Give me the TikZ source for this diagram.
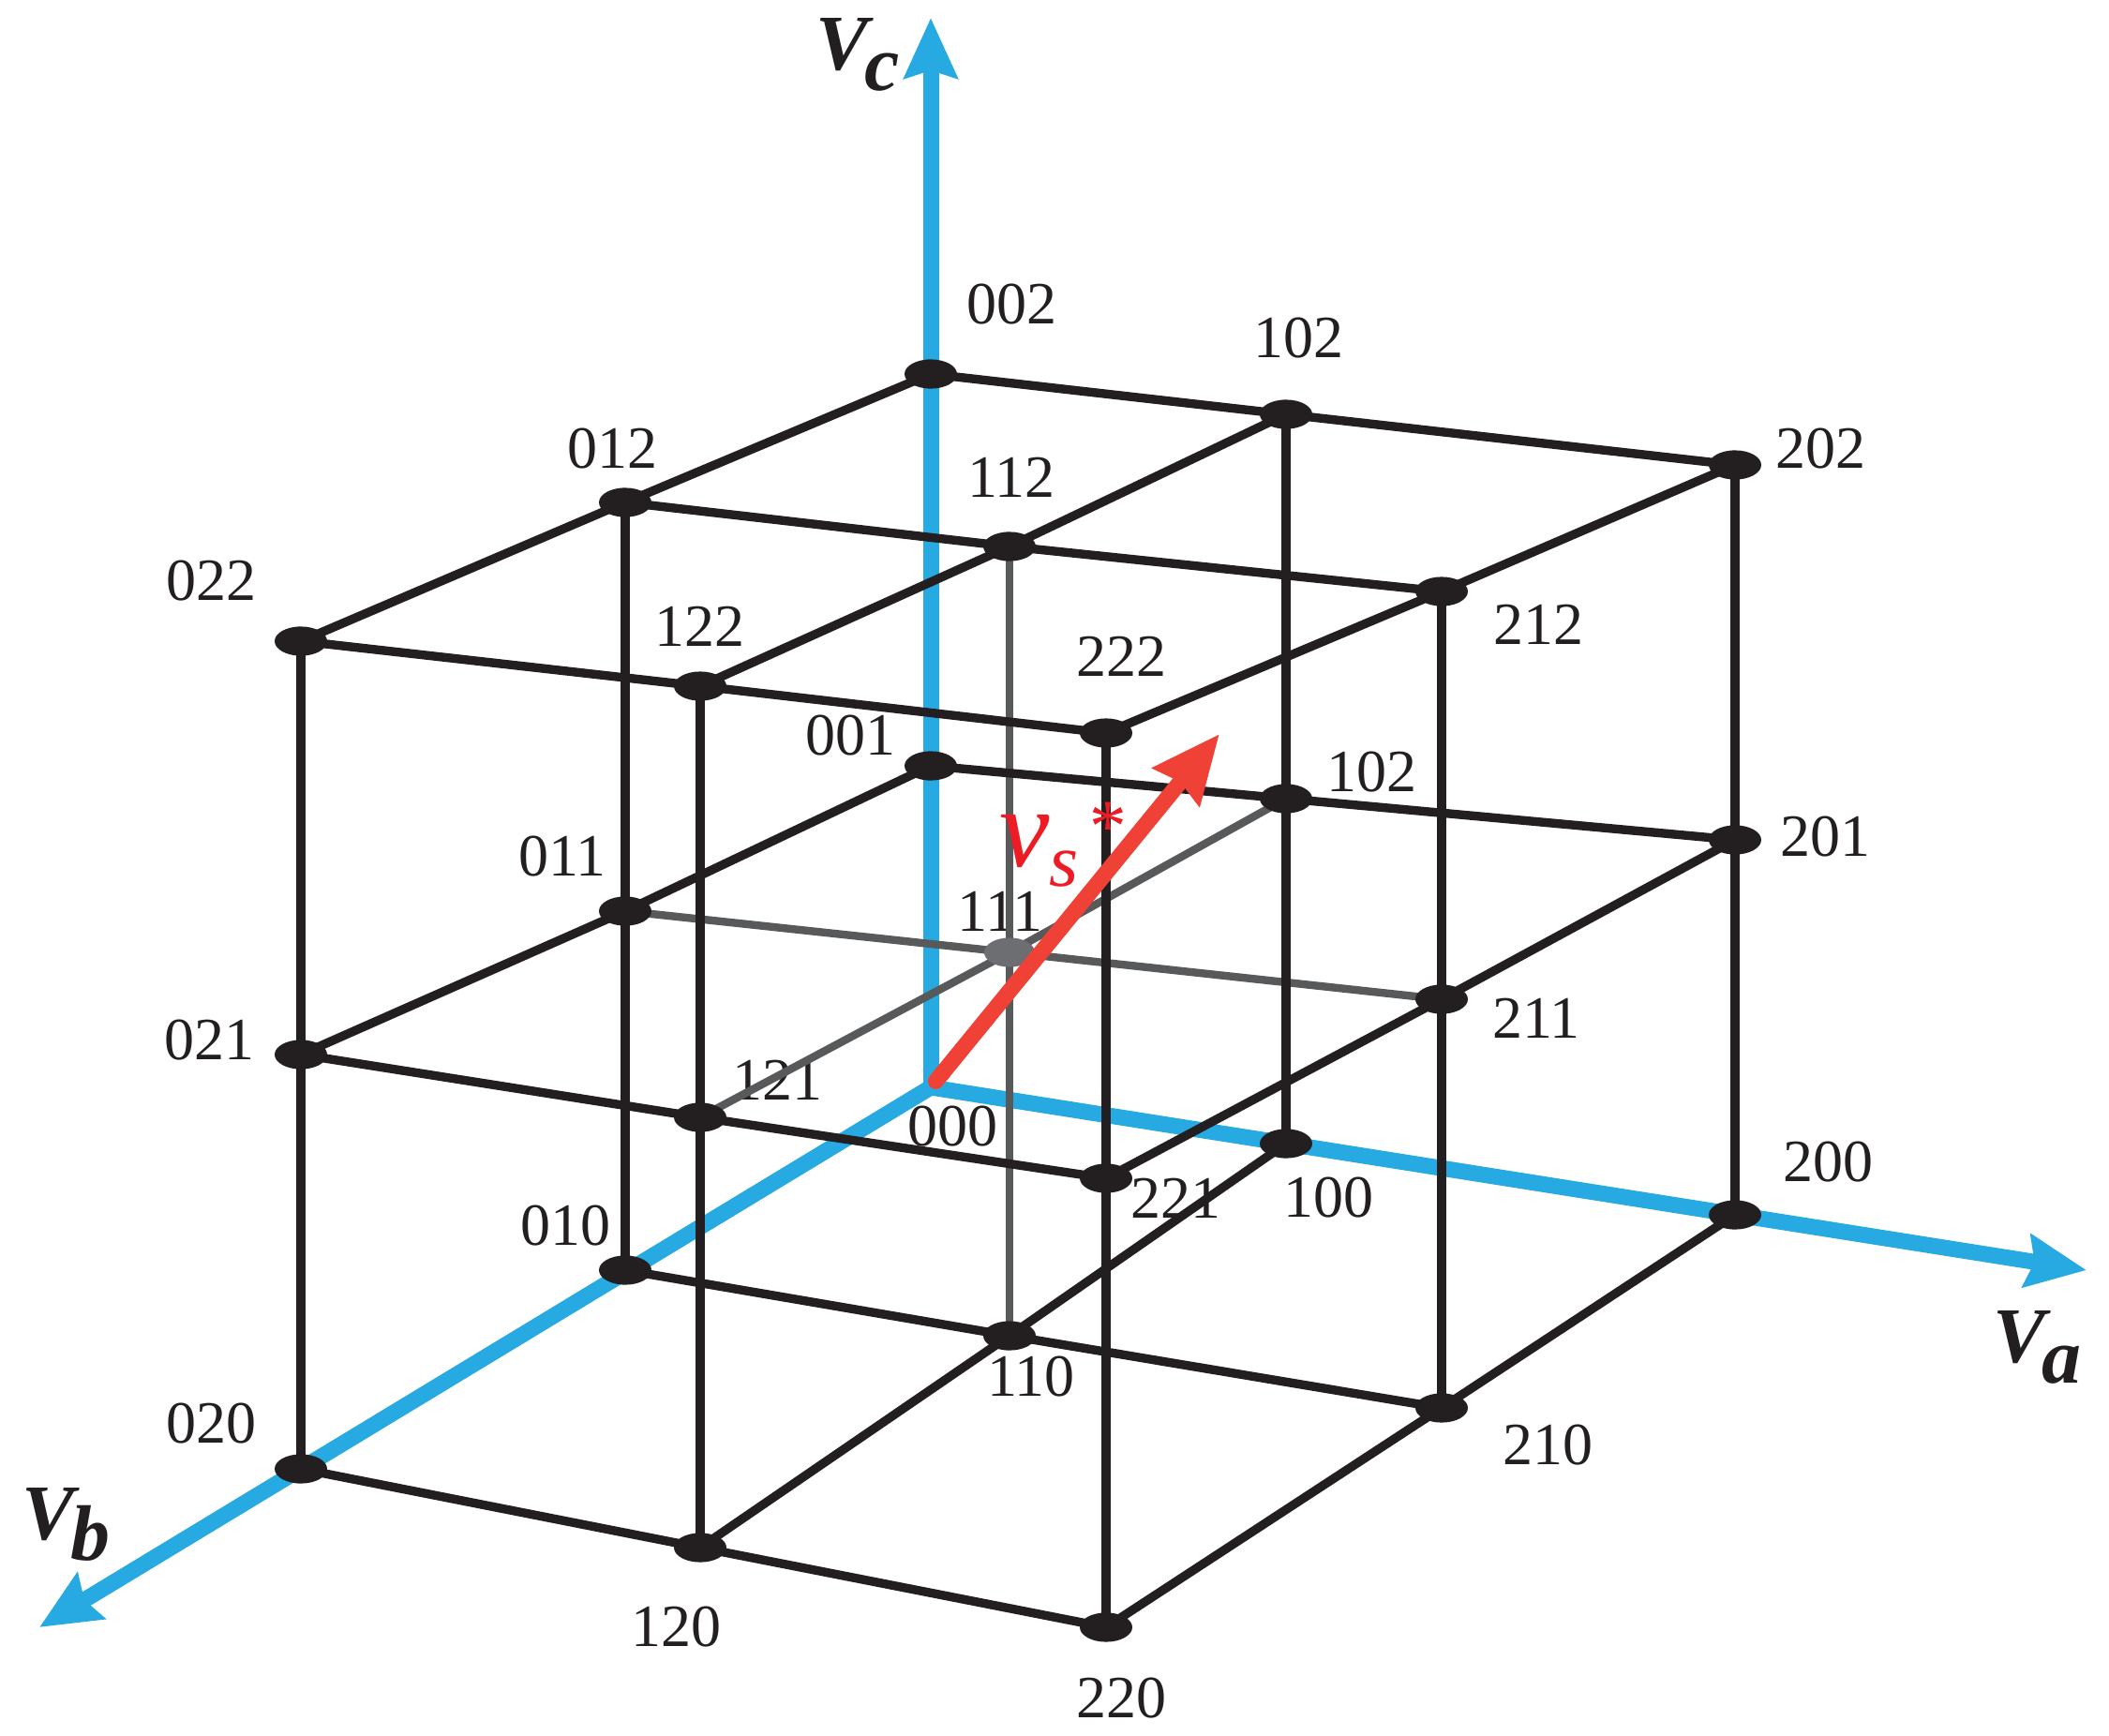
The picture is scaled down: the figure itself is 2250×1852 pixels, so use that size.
\documentclass[tikz,border=0pt]{standalone}
\usepackage{fontspec}
\setmainfont{Liberation Serif}
\usetikzlibrary{arrows.meta}
\definecolor{axisblue}{HTML}{27AAE1}
\definecolor{gridblack}{HTML}{231F20}
\definecolor{gridgray}{HTML}{58595B}
\definecolor{dotgray}{HTML}{6D6E71}
\definecolor{vecred}{HTML}{EF4136}
\definecolor{txtred}{HTML}{ED1C24}
\begin{document}
\begin{tikzpicture}[x=0.5pt,y=-0.5pt,
  axis/.style={axisblue,line width=8.5pt,-{Stealth[length=32pt,width=28pt,inset=4pt]}},
  edge/.style={gridblack,line width=4.7pt},
  hidden/.style={gridgray,line width=4.2pt},
  bdot/.style={fill=gridblack},
  gdot/.style={fill=dotgray},
  lbl/.style={font=\fontsize{32}{32}\selectfont,text=gridblack,inner sep=0pt},
  axlbl/.style={font=\fontsize{42}{42}\selectfont\bfseries\itshape,text=gridblack,inner sep=0pt,anchor=base west}]
\useasboundingbox (0,0) rectangle (2250,1852);

% lattice points
\coordinate (p000) at (993,1160);
\coordinate (p100) at (1372,1220);
\coordinate (p200) at (1851,1296);
\coordinate (p010) at (667,1355);
\coordinate (p110) at (1077,1425);
\coordinate (p210) at (1538,1502);
\coordinate (p020) at (321,1567);
\coordinate (p120) at (747,1651);
\coordinate (p220) at (1180,1736);
\coordinate (p001) at (993,817);
\coordinate (p101) at (1372,852);
\coordinate (p201) at (1851,896);
\coordinate (p011) at (667,972);
\coordinate (p111) at (1077,1016);
\coordinate (p211) at (1538,1066);
\coordinate (p021) at (321,1125);
\coordinate (p121) at (747,1192);
\coordinate (p221) at (1180,1257);
\coordinate (p002) at (993,399);
\coordinate (p102) at (1372,442);
\coordinate (p202) at (1851,496);
\coordinate (p012) at (667,536);
\coordinate (p112) at (1077,583);
\coordinate (p212) at (1538,631);
\coordinate (p022) at (321,684);
\coordinate (p122) at (747,732);
\coordinate (p222) at (1180,782);
% axis tips
\coordinate (ta) at (2226,1355);
\coordinate (tb) at (42,1736);
\coordinate (tc) at (993,19);
\coordinate (tv) at (1301,783);

% labels
\node[lbl] (l002) at (1079,325) {002};
\node[lbl] (l102) at (1385,361) {102};
\node[lbl] (l202) at (1942,479) {202};
\node[lbl] (l012) at (653,479) {012};
\node[lbl] (l112) at (1079,509) {112};
\node[lbl] (l212) at (1641,666) {212};
\node[lbl] (l022) at (225,620) {022};
\node[lbl] (l122) at (746,668) {122};
\node[lbl] (l222) at (1196,700) {222};
\node[lbl] (l001) at (907,785) {001};
\node[lbl] (l101) at (1463,824) {102};
\node[lbl] (l201) at (1947,893) {201};
\node[lbl] (l011) at (600,914) {011};
\node[lbl] (l111) at (1067,972) {111};
\node[lbl] (l211) at (1639,1086) {211};
\node[lbl] (l021) at (223,1110) {021};
\node[lbl] (l121) at (829,1152) {121};
\node[lbl] (l000) at (1016,1202) {000};
\node[lbl] (l221) at (1254,1278) {221};
\node[lbl] (l100) at (1417,1278) {100};
\node[lbl] (l200) at (1950,1240) {200};
\node[lbl] (l010) at (603,1308) {010};
\node[lbl] (l110) at (1100,1469) {110};
\node[lbl] (l210) at (1651,1542) {210};
\node[lbl] (l020) at (225,1519) {020};
\node[lbl] (l120) at (721,1736) {120};
\node[lbl] (l220) at (1196,1812) {220};

% axes
\draw[axis] (p000) -- (ta);
\draw[axis] (p000) -- (tb);
\draw[axis] (p000) -- (tc);
\fill[axisblue] (p000) circle (4.25pt);
\node[axlbl] (lva) at (2126,1453) {V\kern-2pt\raisebox{-11pt}{a}};
\node[axlbl] (lvb) at (23,1642) {V\kern-2pt\raisebox{-11pt}{b}};
\node[axlbl] (lvc) at (870,74) {V\kern-2pt\raisebox{-11pt}{c}};

% hidden (gray) edges through 111
\draw[hidden] (p011) -- (p111) -- (p211);
\draw[hidden] (p101) -- (p111) -- (p121);
\draw[hidden] (p110) -- (p111) -- (p112);

% top layer
\draw[edge] (p002) -- (p102) -- (p202);
\draw[edge] (p012) -- (p112) -- (p212);
\draw[edge] (p022) -- (p122) -- (p222);
\draw[edge] (p002) -- (p012) -- (p022);
\draw[edge] (p102) -- (p112) -- (p122);
\draw[edge] (p202) -- (p212) -- (p222);
% middle layer
\draw[edge] (p001) -- (p101) -- (p201);
\draw[edge] (p021) -- (p121) -- (p221);
\draw[edge] (p001) -- (p011) -- (p021);
\draw[edge] (p201) -- (p211) -- (p221);
% bottom layer
\draw[edge] (p010) -- (p110) -- (p210);
\draw[edge] (p020) -- (p120) -- (p220);
\draw[edge] (p100) -- (p110) -- (p120);
\draw[edge] (p200) -- (p210) -- (p220);
% verticals
\draw[edge] (p100) -- (p101) -- (p102);
\draw[edge] (p200) -- (p201) -- (p202);
\draw[edge] (p010) -- (p011) -- (p012);
\draw[edge] (p210) -- (p211) -- (p212);
\draw[edge] (p020) -- (p021) -- (p022);
\draw[edge] (p120) -- (p121) -- (p122);
\draw[edge] (p220) -- (p221) -- (p222);

% dots
\foreach \p in {100,200,010,110,210,020,120,220,001,101,201,011,211,021,121,221,002,102,202,012,112,212,022,122,222}
  \fill[bdot] (p\p) ellipse [x radius=14pt, y radius=7.8pt];
\fill[gdot] (p111) ellipse [x radius=13.5pt, y radius=7.8pt];

% reference vector
\draw[vecred,line width=8.5pt,{Round Cap[]}-{Stealth[length=36pt,width=31pt,inset=3pt]}] (p000) -- (tv);
\node[inner sep=0pt,anchor=base west,text=txtred] (lvs) at (1066,924)
  {\fontsize{60}{60}\selectfont\itshape v\raisebox{-10.5pt}{\fontsize{40}{40}\selectfont s}\kern4pt\raisebox{8pt}{\fontsize{40}{40}\selectfont *}};
\end{tikzpicture}
\end{document}
